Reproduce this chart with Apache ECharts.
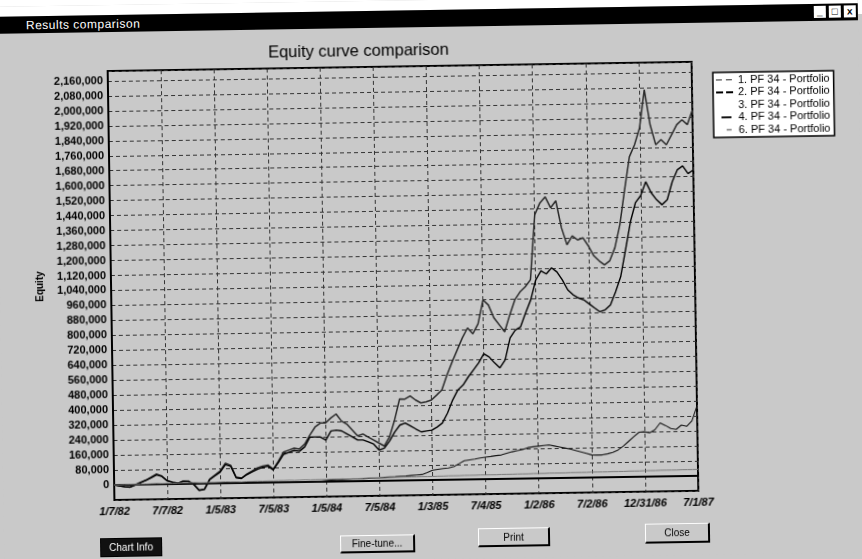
<!DOCTYPE html>
<html>
<head>
<meta charset="utf-8">
<title>Results comparison</title>
<script src="https://cdn.jsdelivr.net/npm/echarts@6/dist/echarts.min.js"></script>
<style>
  html, body {
    margin: 0; padding: 0; width: 862px; height: 559px; overflow: hidden;
    background: linear-gradient(#fff 0, #fff 14px, #c9c9c9 14px);
    font-family: "Liberation Sans", Arial, sans-serif;
  }
  #stage {
    position: absolute; left: 0; top: 0; width: 862px; height: 559px;
    background: #c9c9c9;
    transform: rotate(-0.9deg); transform-origin: 431px 280px;
  }
  #paper { position: absolute; left: 0; top: 0; width: 862px; height: 10px; background: #fff; }
  #caption { position: absolute; left: 0; top: 10px; width: 862px; height: 17px; background: #000; }
  #caption .cap-text { position: absolute; left: 30px; top: 2px; color: #fff; font-size: 12px; letter-spacing: 0.5px; }
  .wbtn {
    position: absolute; top: 2px; width: 12px; height: 12px; background: #fff; color: #000;
    font-size: 10px; line-height: 12px; text-align: center; font-weight: bold;
  }
  #chart { position: absolute; left: 0; top: 0; width: 862px; height: 559px; }
  .btn {
    position: absolute; box-sizing: border-box; font-size: 10px; text-align: center; color: #000;
    border-top: 1px solid #fff; border-left: 1px solid #fff;
    border-right: 2px solid #000; border-bottom: 2px solid #000;
  }
  .btn.default { background: #111; color: #fff; border: 1px solid #000; }
</style>
</head>
<body>
<div id="stage">
  <div id="paper"></div>
  <div id="caption">
    <span class="cap-text">Results comparison</span>
    <span class="wbtn" style="left:818px">_</span>
    <span class="wbtn" style="left:833px">&#9633;</span>
    <span class="wbtn" style="left:848px">x</span>
  </div>
  <div id="chart"></div>
  <div class="btn default" style="left:96px;top:533px;width:62px;height:19px;line-height:17px">Chart Info</div>
  <div class="btn" style="left:336px;top:534px;width:75px;height:18px;line-height:16px">Fine-tune...</div>
  <div class="btn" style="left:474px;top:529px;width:72px;height:19px;line-height:17px">Print</div>
  <div class="btn" style="left:641px;top:527px;width:65px;height:20px;line-height:18px">Close</div>
</div>
<script>
// Equity (in thousands of dollars), one value per period, 1/7/82 .. 7/1/87
const tickLabels = ['1/7/82', '7/7/82', '1/5/83', '7/5/83', '1/5/84', '7/5/84',
                    '1/3/85', '7/4/85', '1/2/86', '7/2/86', '12/31/86', '7/1/87'];
const periodsPerTick = 10;

const seriesNames = ['1. PF 34 - Portfolio', '2. PF 34 - Portfolio', '3. PF 34 - Portfolio',
                     '4. PF 34 - Portfolio', '6. PF 34 - Portfolio'];

const equity1 = [0,-5,-10,-12,0,13,24,39,55,44, 19,11,5,16,15,-2,-34,-29,24,45,
  66,108,96,32,27,48,63,79,89,94, 72,114,162,172,182,177,203,251,293,314,
  314,340,361,323,306,274,242,252,235,219, 202,186,234,324,436,435,451,429,413,418,
  428,454,481,560,629,693,757,810,778,831, 958,931,862,824,786,876,956,998,1025,1062,
  1409,1472,1504,1445,1482,1337,1246,1293,1271,1282, 1239,1185,1157,1135,1157,1226,1348,1535,1711,1775,
  1865,2068,1880,1773,1800,1772,1825,1878,1904,1878,1957];

const equity2 = [0,-6,-10,-13,-2,10,22,36,50,42, 18,9,3,13,13,-4,-36,-31,20,40,
  60,100,90,28,24,44,58,72,82,88, 68,106,150,160,170,165,188,240,240,239,
  223,271,275,270,253,237,220,220,209,197, 165,175,212,260,297,307,291,274,258,263,
  267,283,304,357,426,479,505,548,585,622, 670,653,621,594,636,753,795,811,886,955,
  1061,1109,1092,1124,1102,1059,1005,978,961,950, 928,906,885,895,921,990,1070,1214,1363,1465,
  1502,1576,1517,1479,1452,1478,1574,1638,1658,1616,1636];

const equity3 = [];

const equity4 = [0,0,0,0,0,0,0,0,0,0, 0,0,0,0,0,0,0,0,0,0,
  0,0,0,0,0,0,0,0,0,0, 0,0,0,0,0,0,0,0,0,2,
  6,9,10,10,11,12,12,13,14,15, 16,18,20,21,23,24,26,28,30,40,
  52,56,60,63,70,85,100,104,108,114, 118,121,125,128,136,144,150,155,165,169,
  172,175,178,172,166,160,154,146,138,130, 121,120,120,125,132,145,165,190,215,238,
  240,234,250,286,272,255,250,273,266,295,375];

const equity6 = [0,0,1,2,1,3,3,4,5,4, 5,4,5,6,6,7,5,5,6,6,
  7,8,7,7,6,8,8,9,8,9, 9,10,10,11,10,11,12,11,12,12,
  12,13,13,14,13,14,14,15,15,15, 16,16,16,17,17,18,18,18,19,19,
  19,20,20,21,21,21,22,22,22,23, 23,23,23,24,24,24,25,25,25,26,
  26,26,27,27,27,27,28,28,28,28, 29,29,29,29,30,30,30,31,31,31,
  32,32,32,33,33,33,33,34,34,34,35];

const lineColors = ['#2a2a2a', '#000000', '#eeeeee', '#151515', '#7a7a7a'];
const lineWidths = [1.5, 1.4, 1, 1.1, 1];

// Legend samples: small bars drawn inside a 17 x 2 box (corner dots fix the box size)
const box = 'M0,0h0.05v0.05h-0.05z M16.95,1.95h0.05v0.05h-0.05z ';
const legendIcons = [
  'path://' + box + 'M0,0.4H6V1.6H0Z M10,0.4H16V1.6H10Z',
  'path://' + box + 'M0,0H7V2H0Z M10,0H17V2H10Z',
  'path://' + box,
  'path://' + box + 'M5,0H15V2H5Z',
  'path://' + box + 'M10,0.3H15V1.7H10Z'
];

const periods = equity1.map((_, i) => String(i));
const toDollars = arr => arr.map(v => v * 1000);
const withCommas = v => String(v).replace(/\B(?=(\d{3})+(?!\d))/g, ',');

const allEquity = [equity1, equity2, equity3, equity4, equity6];

const chart = echarts.init(document.getElementById('chart'), null, { renderer: 'canvas' });
chart.setOption({
  animation: false,
  textStyle: { fontFamily: '"Liberation Sans", Arial, sans-serif' },
  title: {
    text: 'Equity curve comparison',
    left: 357, top: 37, textAlign: 'center',
    textStyle: { fontSize: 16.5, fontWeight: 'normal', color: '#000' }
  },
  legend: {
    orient: 'vertical', left: 716, top: 77,
    backgroundColor: '#fff', borderColor: '#000', borderWidth: 1.5,
    padding: [2, 4, 2, 3], itemGap: 1.5, itemWidth: 17, itemHeight: 2,
    textStyle: { fontSize: 11, color: '#000' },
    data: seriesNames.map((name, k) => ({ name, icon: legendIcons[k] }))
  },
  grid: { left: 111, right: 167, top: 66, bottom: 64, show: true, borderColor: '#000', borderWidth: 2 },
  xAxis: {
    type: 'category', data: periods, boundaryGap: false,
    axisLine: { lineStyle: { color: '#000', width: 2 } },
    axisTick: { show: false },
    axisLabel: {
      interval: periodsPerTick - 1, margin: 6,
      fontSize: 11, fontWeight: 'bold', fontStyle: 'italic', color: '#000',
      formatter: (v, idx) => tickLabels[idx / periodsPerTick] || ''
    },
    splitLine: { show: true, interval: periodsPerTick - 1, lineStyle: { color: '#333', type: [4, 3], width: 1 } }
  },
  yAxis: {
    type: 'value', min: -80000, max: 2213000, interval: 80000,
    name: 'Equity', nameLocation: 'middle', nameGap: 66, nameRotate: 90,
    nameTextStyle: { fontSize: 10, fontWeight: 'bold', color: '#000' },
    axisLine: { show: true, lineStyle: { color: '#000', width: 2 } },
    axisTick: { show: false },
    axisLabel: {
      margin: 5, fontSize: 11, fontWeight: 'bold', color: '#000',
      formatter: v => (v < 0 || v > 2160000) ? '' : withCommas(v)
    },
    splitLine: { show: true, lineStyle: { color: '#333', type: [4, 3], width: 1 } }
  },
  series: seriesNames.map((name, k) => ({
    name, type: 'line', symbol: 'none',
    data: toDollars(allEquity[k]),
    lineStyle: { color: lineColors[k], width: lineWidths[k] },
    itemStyle: { color: lineColors[k] }
  }))
});
</script>
</body>
</html>
